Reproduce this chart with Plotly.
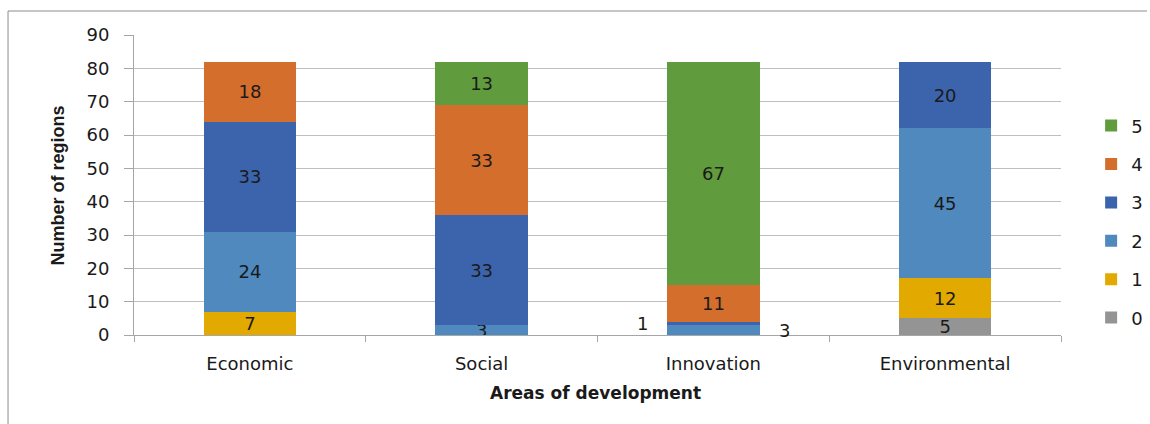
import plotly.graph_objects as go
import numpy as np

categories = ["Economic", "Social", "Innovation", "Environmental"]
series_names = ["0", "1", "2", "3", "4", "5"]
values_0 = [0, 0, 0, 5]
values_1 = [7, 0, 0, 12]
values_2 = [24, 3, 3, 45]
values_3 = [33, 33, 1, 20]
values_4 = [18, 33, 11, 0]
values_5 = [0, 13, 67, 0]
all_values = [values_0, values_1, values_2, values_3, values_4, values_5]
colors = ["#949494", "#E2AA00", "#4F89BD", "#3C64AD", "#D46E2C", "#609B3D"]

# labels drawn outside the bar (Innovation small segments)
outside = {("2", "Innovation"): 1, ("3", "Innovation"): -1}

FS = 18
fig = go.Figure()
cum = np.zeros(len(categories))
ann = []
for i, (name, vals, col) in enumerate(zip(series_names, all_values, colors)):
    texts = []
    for c, v, base in zip(categories, vals, cum):
        if v == 0:
            texts.append("")
        elif (name, c) in outside:
            texts.append("")
            side = outside[(name, c)]
            ann.append(dict(x=c, y=base + v / 2, xref="x", yref="y", text=str(v),
                            showarrow=False, xshift=71 * side,
                            font=dict(family="DejaVu Sans", size=FS, color="#1a1a1a")))
        else:
            texts.append(str(v))
    fig.add_trace(go.Bar(
        x=categories, y=vals, name=name, marker=dict(color=col, line=dict(width=0)),
        text=texts, textposition="inside", insidetextanchor="middle",
        constraintext="none", textangle=0, legendgroup=name,
        legendrank=len(series_names) - i,
        textfont=dict(family="DejaVu Sans", size=FS, color="#1a1a1a"),
        hoverinfo="x+y+name",
    ))
    cum = cum + np.array(vals)

ann.append(dict(x=-0.0815, y=0.5, xref="paper", yref="paper", text="<b>Number of regions</b>",
                textangle=-90, showarrow=False, xanchor="center", yanchor="middle",
                font=dict(family="Liberation Sans", size=18, color="#1a1a1a")))
ann.append(dict(x=0.498, y=-0.193, xref="paper", yref="paper", text="<b>Areas of development</b>",
                showarrow=False, xanchor="center", yanchor="middle",
                font=dict(family="DejaVu Sans", size=17, color="#1a1a1a")))

fig.update_layout(
    width=1150, height=424,
    margin=dict(l=134, r=89, t=35, b=89, autoexpand=False),
    barmode="stack", bargap=0.6,
    plot_bgcolor="white", paper_bgcolor="white",
    font=dict(family="DejaVu Sans", size=FS, color="#1a1a1a"),
    annotations=ann,
    legend=dict(x=1.0325, y=0.377, xanchor="left", yanchor="middle",
                traceorder="grouped", tracegroupgap=12,
                font=dict(family="DejaVu Sans", size=FS, color="#1a1a1a"),
                itemwidth=30),
    shapes=[
        dict(type="line", xref="paper", yref="paper", x0=-0.1359, x1=1.0928, y0=1.08, y1=1.08,
             line=dict(color="#8c8c8c", width=1)),
        dict(type="line", xref="paper", yref="paper", x0=-0.1359, x1=-0.1359, y0=1.08, y1=-0.3,
             line=dict(color="#8c8c8c", width=1)),
    ],
)
fig.update_xaxes(showline=True, linecolor="#a6a6a6", linewidth=1, ticks="outside",
                 tickson="boundaries", ticklen=6, tickcolor="#a6a6a6",
                 ticklabelstandoff=12, showgrid=False,
                 tickfont=dict(family="DejaVu Sans", size=FS, color="#1a1a1a"))
fig.update_yaxes(range=[0, 90], dtick=10, tick0=0, showline=True, linecolor="#a6a6a6",
                 linewidth=1, ticks="outside", ticklen=9, tickcolor="#a6a6a6",
                 showgrid=True, gridcolor="#bfbfbf", gridwidth=1, zeroline=False,
                 ticklabelstandoff=11,
                 tickfont=dict(family="DejaVu Sans", size=FS, color="#1a1a1a"))

fig.write_html("out.html")
